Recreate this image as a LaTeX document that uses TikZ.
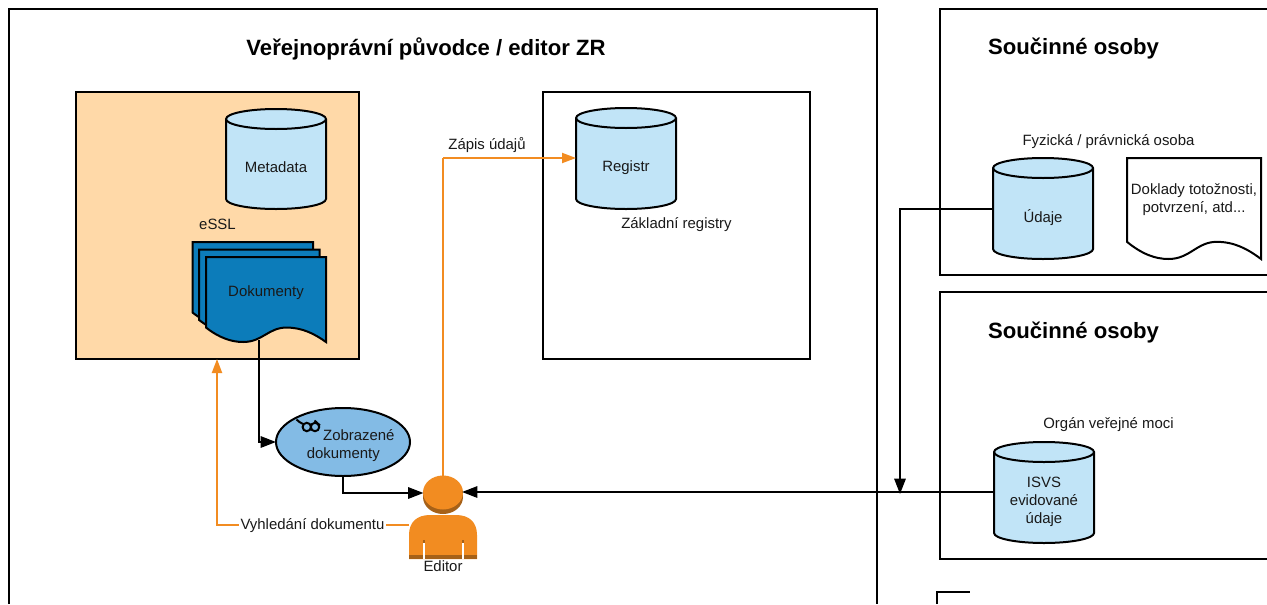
\documentclass[tikz,border=0pt]{standalone}
\usepackage{fontspec}
\setmainfont{Liberation Sans}
\usetikzlibrary{arrows.meta,shapes.geometric}
\definecolor{cylfill}{HTML}{C1E4F7}
\definecolor{docblue}{HTML}{0C7CBA}
\definecolor{ellblue}{HTML}{83BBE5}
\definecolor{orng}{HTML}{F28C21}
\definecolor{orngdark}{HTML}{A66118}
\definecolor{peach}{HTML}{FFD9A8}
\tikzset{
  frame/.style={draw=black,line width=1.5pt},
  lbl/.style={font=\fontsize{11.2}{13.5}\selectfont,align=center,inner sep=0pt,text=black!90},
  heading/.style={font=\bfseries\fontsize{16.6}{20}\selectfont,inner sep=0pt,text=black},
  flowb/.style={draw=black,line width=1.5pt,-{Triangle[length=11.5pt,width=8.5pt]}},
  flowo/.style={draw=orng,line width=1.5pt,-{Triangle[length=10.5pt,width=7.5pt]}},
  plaino/.style={draw=orng,line width=1.5pt},
  headshape/.style={ellipse,minimum width=30pt,minimum height=25.5pt,inner sep=0pt,outer sep=0pt},
}
% \cyl{name}{x}{y-top}{y-bottom}{text}  (width 100, end radius 10)
\newcommand{\cyl}[5]{%
  \path[fill=cylfill,draw=black,line width=1.5pt]
    (#2,#3+10) arc[x radius=50,y radius=-10,start angle=180,end angle=0]
    -- (#2+100,#4-10) arc[x radius=50,y radius=-10,start angle=0,end angle=-180] -- cycle;
  \path[draw=black,line width=1.5pt] (#2,#3+10) arc[x radius=50,y radius=-10,start angle=180,end angle=360];
  \node[minimum width=75pt,minimum height={(#4-#3)*0.75pt},inner sep=0pt,outer sep=0pt] (#1) at (#2+50,{(#3+#4)/2}) {};
  \node[lbl] (#1text) at (#2+50,{(#3+#4)/2+9.5}) {#5};
}
% \docshape{x}{y}{w}{h}{fill}
\newcommand{\docshape}[5]{%
  \path[fill=#5,draw=black,line width=1.5pt,line join=miter]
    (#1,#2) -- (#1+#3,#2) -- (#1+#3,#2+#4)
    .. controls (#1+0.90*#3,#2+0.90*#4) and (#1+0.80*#3,#2+0.83*#4) .. (#1+0.67*#3,#2+0.83*#4)
    .. controls (#1+0.52*#3,#2+0.83*#4) and (#1+0.47*#3,#2+#4) .. (#1+0.31*#3,#2+#4)
    .. controls (#1+0.21*#3,#2+#4) and (#1+0.11*#3,#2+0.95*#4) .. (#1,#2+0.83*#4) -- cycle;
}
\begin{document}
\begin{tikzpicture}[x=0.75pt,y=-0.75pt]
\useasboundingbox (0,0) rectangle (1267,604);
\fill[white] (0,0) rectangle (1267,604);
% outer frames
\draw[frame] (9,604) -- (9,9) -- (877,9) -- (877,604);
\draw[frame] (1267,9) -- (940,9) -- (940,275) -- (1267,275);
\draw[frame] (1267,292) -- (940,292) -- (940,559) -- (1267,559);
\draw[frame] (937,604) -- (937,592) -- (970,592);
% boxes
\node[frame,fill=peach,minimum width=212.25pt,minimum height=200.25pt,inner sep=0pt] (essl) at (217.5,225.5) {};
\node[frame,minimum width=200.25pt,minimum height=200.25pt,inner sep=0pt] (zr) at (676.5,225.5) {};
% headings
\node[heading] (h1) at (426,49) {Veřejnoprávní původce / editor ZR};
\node[heading] (h2) at (1073.5,49) {Součinné osoby};
\node[heading] (h3) at (1073.5,333) {Součinné osoby};
% cylinders
\cyl{meta}{226}{109}{209}{\raisebox{1.5pt}{Metadata}}
\cyl{reg}{576}{108}{209}{Registr}
\cyl{udaje}{993}{158}{259}{Údaje}
\cyl{isvs}{994}{442}{543}{ISVS\\evidované\\údaje}
% texts
\node[lbl] (essl-l) at (217.5,224) {eSSL};
\node[lbl] (zakl) at (676.5,225) {Základní registry};
\node[lbl] (fyz) at (1108.5,142) {Fyzická / právnická osoba};
\node[lbl] (ovm) at (1108.5,425) {Orgán veřejné moci};
% document stack
\docshape{192.5}{242}{120.5}{85}{docblue}
\docshape{199.2}{249.5}{120.5}{85}{docblue}
\docshape{206}{257}{120}{85}{docblue}
\node[lbl] (dok) at (266,292.5) {Dokumenty};
\coordinate (dokout) at (259,340);
% white document
\docshape{1127}{158}{134}{101}{white}
\node[lbl] (dokl) at (1194,200) {Doklady totožnosti,\\potvrzení, atd...};
% ellipse
\node[ellipse,draw=black,line width=1.5pt,fill=ellblue,minimum width=100.5pt,minimum height=51pt,inner sep=0pt,outer sep=0pt] (zob) at (343,442) {};
\node[lbl,align=left,anchor=west] (zobt) at (306.5,446) {\hspace*{12.3pt}Zobrazené\\dokumenty};
% glasses
\begin{scope}[line width=1.5pt,draw=black]
  \draw (296.5,419.5) .. controls (298.5,422) and (300,422) .. (303,424);
  \draw (306.8,427) circle[radius=4.2];
  \draw (315,427) circle[radius=4.2];
  \draw (314.5,420.5) -- (320,425.5);
\end{scope}
% editor
\node[headshape,fill=orngdark] (headlow) at (443,497) {};
\node[headshape,fill=orng] (head) at (443,492.5) {};
\coordinate (headtop) at (443,476);
\coordinate (headl) at (423.5,493);
\coordinate (headr) at (462,492);
\fill[orng] (409,559) -- (409,535) .. controls (409,522) and (417,515) .. (430,515) -- (456,515) .. controls (469,515) and (477,522) .. (477,535) -- (477,559) -- cycle;
\fill[orngdark] (409,555) rectangle (477,559);
\fill[white] (423.4,543) rectangle (424.9,559);
\fill[white] (462.2,543) rectangle (463.7,559);
\fill[orngdark] (423.4,540) rectangle (424.9,543);
\fill[orngdark] (462.2,540) rectangle (463.7,543);
\coordinate (bodyl) at (409,525);
\node[lbl] (edit) at (443,566) {Editor};
% connectors
\draw[plaino] (headtop) -- (443,158);
\draw[flowo] (443,158) -- (reg.west |- 443,158);
\node[lbl] (zapis) at (487,145) {Zápis údajů};
\draw[flowo] (bodyl) -- (217,525) -- (217,359);
\node[lbl,fill=white,inner xsep=1pt,inner ysep=2pt] (vyh) at (312.5,525.5) {Vyhledání dokumentu};
\draw[flowb] (dokout) -- (259,442) -- (zob.west);
\draw[flowb] (zob.south) -- (343,493) -- (headl);
\draw[flowb] (isvs.west |- 994,492) -- (headr);
\draw[flowb] (udaje.west |- 993,209) -- (900,209) -- (900,494);
\end{tikzpicture}
\end{document}
